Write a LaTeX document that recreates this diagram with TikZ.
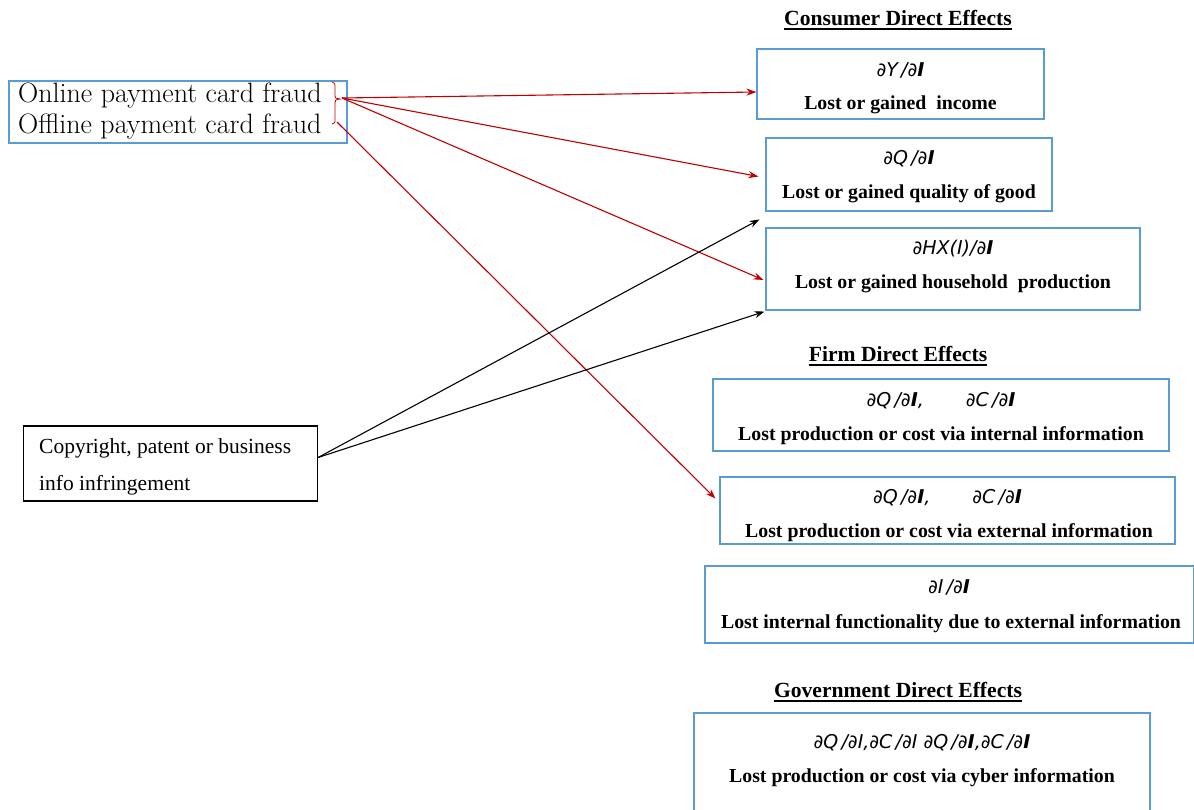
\documentclass[tikz,border=0pt]{standalone}
\usepackage{fontspec}
\usetikzlibrary{arrows.meta,calc}
\newfontfamily\tnr{Liberation Serif}
\newfontfamily\mth{DejaVu Sans}
\definecolor{boxblue}{RGB}{91,155,213}
\definecolor{arrred}{RGB}{192,0,0}
\begin{document}
\begin{tikzpicture}[x=1pt,y=-1pt,
  bbox/.style={draw=boxblue, line width=1.1pt, inner sep=0pt},
  kbox/.style={draw=black, line width=1.1pt, inner sep=0pt},
  lbl/.style={font=\tnr\bfseries\fontsize{19.8}{22}\selectfont, inner sep=0pt, anchor=base},
  mlbl/.style={font=\mth\itshape\fontsize{19}{21}\selectfont, inner sep=0pt, anchor=base},
  ttl/.style={font=\tnr\bfseries\fontsize{21.6}{24}\selectfont, inner sep=0pt, anchor=base},
  lmtxt/.style={font=\fontsize{28}{31}\selectfont, inner sep=0pt, anchor=base west},
  cptxt/.style={font=\tnr\fontsize{21.5}{24}\selectfont, inner sep=0pt, anchor=base west},
  uline/.style={line width=1.3pt},
  redarr/.style={draw=arrred, line width=1.1pt, -{Stealth[length=10pt,width=7pt]}},
  blkarr/.style={draw=black, line width=1.1pt, -{Stealth[length=10pt,width=7pt]}}]
\useasboundingbox (0,0) rectangle (1194,809);
\fill[white] (0,0) rectangle (1194,809);

% left source boxes
\node[bbox, minimum width=338pt, minimum height=62pt] (F) at (178,112) {};
\node[lmtxt] (F1) at (18,102) {Online payment card fraud};
\node[lmtxt] (F2) at (18,133) {Offline payment card fraud};
\draw[arrred, line width=0.8pt] (332,82) .. controls (335,82) and (335,84) .. (335,88)
  -- (335,96) .. controls (335,98) .. (340,99) .. controls (335,100) .. (335,103)
  -- (335,119) .. controls (335,123) .. (332,124);
\coordinate (bt) at (342,98);
\coordinate (bb) at (337,122);

\node[kbox, minimum width=294pt, minimum height=75pt] (C) at (170.5,463.5) {};
\node[cptxt] (C1) at (39,453) {Copyright, patent or business};
\node[cptxt] (C2) at (39,490) {info infringement};

% Consumer
\node[ttl] (CT) at (898,25) {Consumer Direct Effects};
\draw[uline] ([yshift=-4pt]CT.base west) -- ([yshift=-4pt]CT.base east);

\node[bbox, minimum width=287pt, minimum height=70pt] (Y) at (900.5,84) {};
\node[mlbl] (Ym) at (900.5,76) {∂Y\,/∂{\bfseries I}};
\node[lbl] (Yt) at (900.5,109) {Lost or gained\ \ income};

\node[bbox, minimum width=286pt, minimum height=73pt] (Q) at (909,174.5) {};
\node[mlbl] (Qm) at (909,164) {∂Q\,/∂{\bfseries I}};
\node[lbl] (Qt) at (909,198) {Lost or gained quality of good};

\node[bbox, minimum width=374pt, minimum height=82pt] (H) at (953,269) {};
\node[mlbl] (Hm) at (953,254) {∂HX(I)/∂{\bfseries I}};
\node[lbl] (Ht) at (953,288) {Lost or gained household\ \ production};

% Firm
\node[ttl] (FT) at (898,361) {Firm Direct Effects};
\draw[uline] ([yshift=-4pt]FT.base west) -- ([yshift=-4pt]FT.base east);

\node[bbox, minimum width=456pt, minimum height=72pt] (G1) at (941,415) {};
\node[mlbl] (G1m) at (941,406) {∂Q\,/∂{\bfseries I},\hspace{42pt}∂C\,/∂{\bfseries I}};
\node[lbl] (G1t) at (941,440) {Lost production or cost via internal information};

\node[bbox, minimum width=455pt, minimum height=67pt] (G2) at (947.5,510.5) {};
\node[mlbl] (G2m) at (947.5,503) {∂Q\,/∂{\bfseries I},\hspace{42pt}∂C\,/∂{\bfseries I}};
\node[lbl] (G2t) at (949,537) {Lost production or cost via external information};

\node[bbox, minimum width=489pt, minimum height=77pt] (G3) at (949.5,604.5) {};
\node[mlbl] (G3m) at (949,593) {∂I\,/∂{\bfseries I}};
\node[lbl] (G3t) at (951,628) {Lost internal functionality due to external information};

% Government
\node[ttl] (GT) at (898,697) {Government Direct Effects};
\draw[uline] ([yshift=-4pt]GT.base west) -- ([yshift=-4pt]GT.base east);

\node[bbox, minimum width=456pt, minimum height=110pt] (V) at (922,768) {};
\node[mlbl] (Vm) at (922,748) {∂Q\,/∂I,∂C\,/∂I ∂Q\,/∂{\bfseries I},∂C\,/∂{\bfseries I}};
\node[lbl] (Vt) at (922,782) {Lost production or cost via cyber information};

% connectors
\draw[redarr] (bt) -- ([yshift=-8pt]Y.west);
\draw[redarr] (bt) -- ([xshift=-7pt,yshift=-2pt]Q.west);
\draw[redarr] (bt) -- ([xshift=-2pt,yshift=-11pt]H.west);
\draw[redarr] (bb) -- ([xshift=-4pt,yshift=12pt]G2.west);
\draw[blkarr] ([yshift=6pt]C.east) -- ([xshift=-6pt,yshift=8pt]H.north west);
\draw[blkarr] ([yshift=6pt]C.east) -- ([xshift=-1pt,yshift=-1pt]H.south west);
\end{tikzpicture}
\end{document}
